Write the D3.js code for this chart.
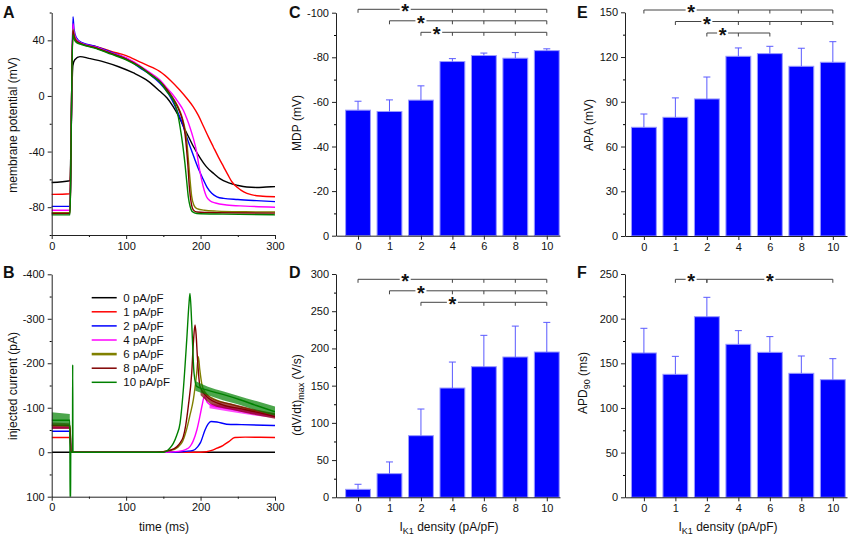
<!DOCTYPE html>
<html>
<head>
<meta charset="utf-8">
<script src="https://cdn.jsdelivr.net/npm/d3@7"></script>
<style>
  body { margin: 0; background: #fff; }
  svg text { font-family: Arial, "Liberation Sans", sans-serif; fill: #111; }
</style>
</head>
<body>
<svg id="fig" width="850" height="536"></svg>
<script>
// ---- data ----
const densities = ["0", "1", "2", "4", "6", "8", "10"];
const legendLabels = ["0 pA/pF", "1 pA/pF", "2 pA/pF", "4 pA/pF", "6 pA/pF", "8 pA/pF", "10 pA/pF"];

// A: membrane potential traces [time ms, mV]
const apK0 = [[0,-62.3],[24.5,-61],[25.5,-45],[27,0],[28.5,22],[31,26],[38,28.3],[50,27],[70,24.5],[90,21],[110,16.5],[130,10.5],[145,3.5],[155,-1.5],[163,-7.5],[170,-14],[177,-22],[184,-29.5],[190,-36],[200,-45],[208,-51],[218,-56],[226,-59.5],[238,-62.5],[250,-64.3],[262,-65.5],[275,-65.8],[288,-65.5],[300,-65.2]];
const apK1 = [[0,-70.8],[24.5,-70.3],[25.5,-50],[27,10],[28.3,46],[29.5,44],[33,40],[40,38],[60,35.5],[80,32],[100,29],[119,24.3],[135,20.5],[145.5,17.5],[160,11],[172,4.3],[182,-2],[190,-7.7],[197,-14],[204,-22],[211,-30],[217,-36.5],[224,-44],[231,-51],[237,-57],[242,-61.7],[250,-66],[258,-69],[268,-71],[280,-72],[300,-72.5]];
const apK2 = [[0,-79.4],[24.5,-79.4],[25.5,-60],[27,10],[28.6,57],[30,48],[33,42],[40,38.5],[60,35.5],[80,31.5],[100,27],[119,20],[133,15],[145.5,9.1],[157,1.5],[168,-10],[175,-19],[181,-29],[187,-38],[192.5,-46],[198,-53.5],[204,-60.5],[209,-66],[215,-70],[222,-72.5],[231,-73.7],[250,-74.5],[275,-75.3],[300,-76]];
const apK4 = [[0,-82.2],[24.5,-82.2],[25.5,-60],[27,10],[28.5,52],[30,46],[33,41],[40,38],[60,35],[80,31],[100,27.5],[119,21.5],[133,16.5],[145.5,11.5],[155,5.5],[163,0.7],[170,-4.5],[177,-10.5],[182,-17],[186,-23],[190,-30],[195,-41],[198,-51],[201.5,-60.5],[205,-68],[208,-72.5],[213,-75.5],[220,-77],[235,-78.4],[260,-79.2],[300,-80]];
const apK6 = [[0,-84],[24.5,-84],[25.5,-60],[27,10],[28.5,48],[30,44],[33,40],[40,37.5],[60,34.5],[80,30.5],[100,26.5],[119,21],[133,15.5],[145,10.5],[155,4.5],[163,-1.5],[170,-8],[175,-15],[178,-21],[181,-30],[183.5,-45],[185.5,-58],[188,-72],[191,-78.5],[195,-81],[205,-82.2],[222,-82.8],[260,-83.3],[300,-83.5]];
const apK8 = [[0,-84.5],[24.5,-84.5],[25.5,-60],[27,10],[28.4,47],[30,43],[33,39.5],[40,37.5],[60,34.5],[80,30.5],[100,26.5],[119,21],[133,15.5],[145,10.5],[155,4.3],[163,-2],[170,-9],[175,-16],[178,-23],[181,-37],[183,-50],[185,-66],[187.5,-77],[190.5,-82.1],[195,-83.5],[220,-84],[300,-84.3]];
const apK10 = [[0,-85.5],[24.5,-85.5],[25.5,-60],[27,10],[28.4,44],[30,41],[33,38.5],[40,37],[60,34],[80,30],[100,26],[119,20.5],[133,15],[145.5,10],[155,3],[163,-3],[168,-10],[172.4,-22],[176,-35],[179,-48.5],[181.5,-62],[183.5,-72.5],[186,-79.5],[188.5,-83],[195,-84.5],[230,-85],[300,-85.5]];

// B: injected current traces [time ms, pA]
const curK0 = [[0,0],[25,0],[30,0],[300,0]];
const curK1 = [[0,-33],[24.5,-33],[26,0],[200,0],[208,-1],[215,-4],[222,-9],[230,-15],[238,-24],[246,-33],[260,-34],[280,-33.5],[300,-33]];
const curK2 = [[0,-47],[24.5,-47],[26,0],[165,0],[180,-2],[190,-4],[196,-12],[200,-22],[206,-50],[210,-63],[214,-69],[222,-68],[235,-63],[255,-62],[300,-60]];
const curK4 = [[0,-55],[24.5,-55],[26,0],[150,0],[170,-2],[180,-6],[186,-13],[190,-25],[195,-50],[199,-80],[202,-105],[205,-125],[209,-112],[215,-105],[230,-100],[250,-94],[270,-88],[300,-82]];
const curK6 = [[0,-60],[24.5,-60],[26,0],[140,0],[160,-4],[170,-12],[176,-25],[181,-50],[186,-85],[190.3,-118],[194.8,-178],[197,-215],[199,-185],[201.5,-155],[206,-135],[215,-122],[240,-108],[270,-95],[300,-85]];
const curK8 = [[0,-60],[24.5,-60],[26,0],[140,0],[160,-5],[168,-12],[173,-22],[176.8,-35],[180,-60],[183.5,-103],[188.1,-178],[190.3,-245],[192.5,-286],[194,-265],[195.7,-215],[199.2,-148],[208.2,-125],[230.6,-106],[253,-98],[275,-90],[300,-80]];
const curK10 = [[0,-72],[24.4,-72],[24.7,120],[25.3,120],[25.6,0],[27.9,0],[28.2,-197],[28.6,0],[150,0],[158,-8],[163.4,-20],[168,-38],[172.4,-65],[176.8,-140],[181.4,-252],[184.5,-335],[185.8,-357],[188.1,-290],[191.2,-178],[194.8,-148],[208.2,-140],[230,-130],[253,-118],[275,-105],[300,-91]];

// B: noise envelopes [time ms, low pA, high pA]
const noiseK4 = [[212,-110,-99],[240,-102,-91],[270,-93,-83],[300,-87,-77]];
const noiseK8Hold = [[0,-67,-52],[24.3,-65,-52]];
const noiseK8 = [[200,-146,-128],[215,-122,-107],[240,-110,-96],[270,-98,-85],[300,-88,-75]];
const noiseK10Hold = [[0,-90,-60],[24.3,-86,-58]];
const noiseK10 = [[193,-160,-138],[210,-147,-128],[230,-137,-117],[250,-127,-108],[275,-115,-94],[300,-103,-82]];

// C-F: means and SD (upward error only)
const mdpMean = [-56.3, -55.7, -60.8, -78.1, -80.8, -79.6, -83.0];
const mdpErr  = [4.0, 5.2, 6.4, 1.3, 1.1, 2.5, 0.8];
const dvdtMean = [10.7, 31.8, 82.8, 146.8, 175.5, 188.5, 195.2];
const dvdtErr  = [6.8, 15.7, 35.8, 34.9, 42.1, 41.5, 39.8];
const apaMean = [72.9, 79.6, 91.9, 120.5, 122.3, 113.8, 116.5];
const apaErr  = [8.9, 13.0, 14.7, 5.6, 4.9, 12.1, 13.8];
const apdMean = [161.6, 137.7, 202.2, 171.3, 162.3, 138.8, 131.7];
const apdErr  = [27.6, 20.1, 21.7, 15.3, 17.6, 19.4, 23.5];

// significance brackets: from density, compared with densities, row
const sigC = [{from:"0", to:["4","6","8","10"], row:0}, {from:"1", to:["4","6","8","10"], row:1}, {from:"2", to:["4","6","8","10"], row:2}];
const sigD = [{from:"0", to:["4","6","8","10"], row:0}, {from:"1", to:["4","6","8","10"], row:1}, {from:"2", to:["6","8","10"], row:2}];
const sigE = [{from:"0", to:["4","6","8","10"], row:0}, {from:"1", to:["4","6","8","10"], row:1}, {from:"2", to:["4","6"], row:2}];
const sigF = [{from:"1", to:["2"], row:0}, {from:"2", to:["10"], row:0}];

const colors = ["#000000", "#ff0000", "#0000ff", "#ff00ff", "#808000", "#800000", "#008000"];

const svg = d3.select("#fig");
const fmt = d => String(d);

function drawAxis(g, axisFn, scale, major, minor, tx, ty, withLabels) {
  g.append("g").attr("transform", `translate(${tx},${ty})`)
    .call(axisFn(scale).tickValues(minor).tickSize(2).tickSizeOuter(0).tickFormat(""))
    .call(a => a.select(".domain").remove());
  const ax = g.append("g").attr("transform", `translate(${tx},${ty})`)
    .call(axisFn(scale).tickValues(major).tickSize(4).tickSizeOuter(0).tickPadding(3)
      .tickFormat(withLabels === false ? "" : fmt));
  ax.selectAll("text").attr("font-size", 11).attr("font-family", "Arial, Liberation Sans, sans-serif").style("fill", "#111");
  ax.selectAll("line,path").attr("stroke", "#222");
  return ax;
}

function panelLetter(txt, x, y) {
  svg.append("text").attr("x", x).attr("y", y).attr("font-size", 16).attr("font-weight", "bold").text(txt);
}

function yTitle(x, y, parts) {
  const t = svg.append("text").attr("transform", `translate(${x},${y}) rotate(-90)`)
    .attr("text-anchor", "middle").attr("font-size", 12);
  parts.forEach(p => {
    if (p.sub) t.append("tspan").attr("font-size", 9).attr("dy", 3).text(p.sub);
    else t.append("tspan").attr("dy", p.after ? -3 : 0).text(p.text);
  });
}

function xTitleIK1(cx, y) {
  const t = svg.append("text").attr("x", cx).attr("y", y).attr("text-anchor", "middle").attr("font-size", 12);
  t.append("tspan").text("I");
  t.append("tspan").attr("font-size", 9).attr("dy", 3).text("K1");
  t.append("tspan").attr("dy", -3).text(" density (pA/pF)");
}

// ---- panel A ----
const xT = d3.scaleLinear().domain([0, 300]).range([51.7, 275]);
const yA = d3.scaleLinear().domain([-100, 60]).range([235, 12.5]);
const gA = svg.append("g");
const lineA = d3.line().x(d => xT(d[0])).y(d => yA(d[1])).curve(d3.curveMonotoneX);
[apK0, apK1, apK2, apK4, apK6, apK8, apK10].forEach((tr, i) => {
  gA.append("path").attr("d", lineA(tr)).attr("fill", "none").attr("stroke", colors[i]).attr("stroke-width", 1.4);
});
drawAxis(gA, d3.axisLeft, yA, [-80, -40, 0, 40], [-100, -60, -20, 20, 60], xT(0), 0);
drawAxis(gA, d3.axisBottom, xT, [0, 100, 200, 300], [50, 150, 250], 0, yA(-100));
panelLetter("A", 3, 18);
yTitle(17, 125, [{text: "membrane potential (mV)"}]);

// ---- panel B ----
const yB = d3.scaleLinear().domain([-400, 100]).range([274.3, 496.7]);
const gB = svg.append("g");
svg.append("clipPath").attr("id", "clipB").append("rect")
  .attr("x", xT(0)).attr("y", yB(-400)).attr("width", xT(300) - xT(0)).attr("height", yB(100) - yB(-400));
const plotB = gB.append("g").attr("clip-path", "url(#clipB)");
const lineB = d3.line().x(d => xT(d[0])).y(d => yB(d[1])).curve(d3.curveMonotoneX);
const areaB = d3.area().x(d => xT(d[0])).y0(d => yB(d[1])).y1(d => yB(d[2])).curve(d3.curveMonotoneX);
const bands = {3: [noiseK4], 5: [noiseK8Hold, noiseK8], 6: [noiseK10Hold, noiseK10]};
[curK0, curK1, curK2, curK4, curK6, curK8, curK10].forEach((tr, i) => {
  (bands[i] || []).forEach(b => {
    plotB.append("path").attr("d", areaB(b)).attr("fill", colors[i]).attr("opacity", 0.7);
  });
  plotB.append("path").attr("d", lineB(tr)).attr("fill", "none").attr("stroke", colors[i]).attr("stroke-width", 1.4);
});
drawAxis(gB, d3.axisLeft, yB, [-400, -300, -200, -100, 0, 100], [-350, -250, -150, -50, 50], xT(0), 0);
drawAxis(gB, d3.axisBottom, xT, [0, 100, 200, 300], [50, 150, 250], 0, yB(100));
panelLetter("B", 3, 278);
yTitle(16.5, 386, [{text: "injected current (pA)"}]);
svg.append("text").attr("x", 164).attr("y", 531).attr("text-anchor", "middle").attr("font-size", 12).text("time (ms)");

// legend
const leg = gB.append("g");
legendLabels.forEach((lab, i) => {
  const ly = 297.7 + i * 14.1;
  leg.append("line").attr("x1", 91.7).attr("x2", 116.7).attr("y1", ly).attr("y2", ly)
    .attr("stroke", colors[i]).attr("stroke-width", i === 4 ? 2.6 : 1.5);
  leg.append("text").attr("x", 123.3).attr("y", ly).attr("dy", "0.36em").attr("font-size", 11.5).text(lab);
});

// ---- bar panels ----
function barPanel(o) {
  const g = svg.append("g");
  const x = d3.scaleLinear().domain(o.xDomain).range(o.xRange);
  const step = x(1) - x(0);
  const bw = step * 0.79;
  const y = o.y;
  const idx = densities.map((d, i) => i);

  g.selectAll("rect.bar").data(idx).join("rect").attr("class", "bar")
    .attr("x", i => x(i) - bw / 2)
    .attr("y", i => Math.min(y(0), y(o.mean[i])))
    .attr("width", bw)
    .attr("height", i => Math.abs(y(0) - y(o.mean[i])))
    .attr("fill", "#0000ff").attr("stroke", "#9a9aff").attr("stroke-width", 1);

  const cap = i => o.mean[i] + Math.sign(o.mean[i]) * o.err[i];
  g.selectAll("line.eb").data(idx).join("line").attr("class", "eb")
    .attr("x1", i => x(i)).attr("x2", i => x(i))
    .attr("y1", i => y(o.mean[i])).attr("y2", i => y(cap(i)))
    .attr("stroke", "#5a5aff").attr("stroke-width", 1);
  g.selectAll("line.ec").data(idx).join("line").attr("class", "ec")
    .attr("x1", i => x(i) - 3.5).attr("x2", i => x(i) + 3.5)
    .attr("y1", i => y(cap(i))).attr("y2", i => y(cap(i)))
    .attr("stroke", "#5a5aff").attr("stroke-width", 1);

  drawAxis(g, d3.axisLeft, y, o.major, o.minor, o.xRange[0], 0);
  const xa = g.append("g").attr("transform", `translate(0,${y(0)})`)
    .call(d3.axisBottom(x).tickValues(idx).tickSize(4).tickSizeOuter(0).tickPadding(3).tickFormat(i => densities[i]));
  xa.selectAll("text").attr("font-size", 11).attr("font-family", "Arial, Liberation Sans, sans-serif").style("fill", "#111");
  xa.selectAll("line,path").attr("stroke", "#222");

  // significance brackets
  o.sig.forEach(s => {
    const yr = o.rowTop + s.row * 11.5;
    const i0 = densities.indexOf(s.from);
    const targets = s.to.map(t => densities.indexOf(t));
    const iEnd = targets[targets.length - 1];
    g.append("line").attr("x1", x(i0)).attr("x2", x(iEnd)).attr("y1", yr).attr("y2", yr)
      .attr("stroke", "#444").attr("stroke-width", 1);
    [i0].concat(targets).forEach(t => {
      g.append("line").attr("x1", x(t)).attr("x2", x(t)).attr("y1", yr).attr("y2", yr + 3.5)
        .attr("stroke", "#444").attr("stroke-width", 1);
    });
    const ax = x((i0 + targets[0]) / 2);
    g.append("rect").attr("x", ax - 5.5).attr("y", yr - 4).attr("width", 11).attr("height", 8).attr("fill", "#fff");
    g.append("text").attr("x", ax).attr("y", yr + 9).attr("text-anchor", "middle")
      .attr("font-size", 20).attr("font-weight", "bold").text("*");
  });
  return g;
}

barPanel({xDomain: [-0.7, 6.42], xRange: [336, 560],
  y: d3.scaleLinear().domain([0, -100]).range([235.7, 12.7]),
  mean: mdpMean, err: mdpErr, major: [0, -20, -40, -60, -80, -100], minor: [-10, -30, -50, -70, -90],
  sig: sigC, rowTop: 9.3});
panelLetter("C", 289, 18);
yTitle(301, 123, [{text: "MDP (mV)"}]);

barPanel({xDomain: [-0.7, 6.42], xRange: [336, 560],
  y: d3.scaleLinear().domain([0, 300]).range([497.3, 274]),
  mean: dvdtMean, err: dvdtErr, major: [0, 50, 100, 150, 200, 250, 300], minor: [25, 75, 125, 175, 225, 275],
  sig: sigD, rowTop: 279.3});
panelLetter("D", 289, 278);
yTitle(301, 395, [{text: "(dV/dt)"}, {sub: "max"}, {text: " (V/s)", after: true}]);
xTitleIK1(449, 531);

barPanel({xDomain: [-0.6, 6.45], xRange: [625, 847],
  y: d3.scaleLinear().domain([0, 150]).range([236, 12.3]),
  mean: apaMean, err: apaErr, major: [0, 30, 60, 90, 120, 150], minor: [15, 45, 75, 105, 135],
  sig: sigE, rowTop: 10});
panelLetter("E", 577, 18);
yTitle(593, 125, [{text: "APA (mV)"}]);

barPanel({xDomain: [-0.6, 6.45], xRange: [625, 847],
  y: d3.scaleLinear().domain([0, 250]).range([497.3, 274]),
  mean: apdMean, err: apdErr, major: [0, 50, 100, 150, 200, 250], minor: [25, 75, 125, 175, 225],
  sig: sigF, rowTop: 279.3});
panelLetter("F", 577, 278);
yTitle(587, 383, [{text: "APD"}, {sub: "90"}, {text: " (ms)", after: true}]);
xTitleIK1(728, 531);
</script>
</body>
</html>
